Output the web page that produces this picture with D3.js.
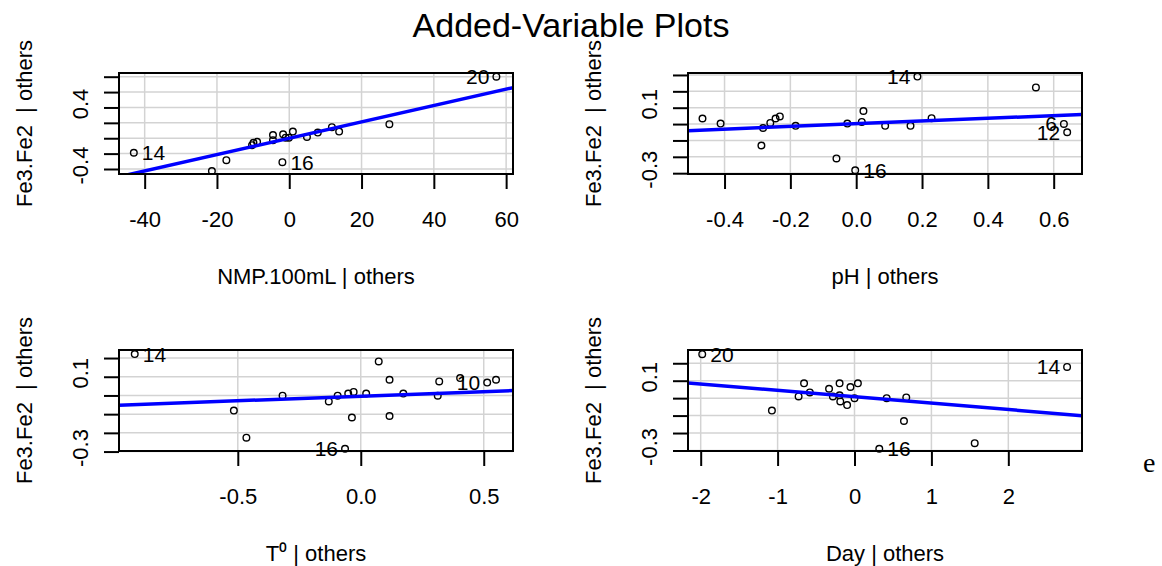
<!DOCTYPE html>
<html>
<head>
<meta charset="utf-8">
<script src="https://cdn.jsdelivr.net/npm/d3@7"></script>
<style>
  body { margin: 0; background: #fff; }
  svg text { font-family: "Liberation Sans", Arial, sans-serif; }
</style>
</head>
<body>
<div id="chart"></div>
<script>
// Added-variable plots

// NMP.100mL | others
const nmpX = [-43.0, -21.4, -17.4, -10.3, -9.9, -8.9, -4.5, -4.5, -1.9, -1.7, -1.0, -0.1, 1.0, 4.9, 7.9, 11.8, 13.8, 27.7, 57.3]
const nmpY = [-0.189, -0.426, -0.285, -0.09, -0.06, -0.047, 0.042, -0.025, -0.311, 0.051, 0.007, 0.007, 0.086, 0.016, 0.073, 0.144, 0.086, 0.183, 0.80]
const nmpId = ['14', '', '', '', '', '', '', '', '16', '', '', '', '', '', '', '', '', '', '20']

// pH | others
const phX = [-0.467, -0.412, -0.288, -0.283, -0.261, -0.245, -0.232, -0.184, -0.06, -0.027, -0.003, 0.017, 0.022, 0.088, 0.165, 0.186, 0.229, 0.546, 0.631, 0.641]
const phY = [0.034, 0.003, -0.131, -0.024, 0.007, 0.034, 0.047, -0.011, -0.21, 0.003, -0.282, 0.013, 0.08, -0.011, -0.011, 0.29, 0.036, 0.224, 0.001, -0.05]
const phId = ['', '', '', '', '', '', '', '', '', '', '16', '', '', '', '', '14', '', '', '6', '12']

// T0 | others
const tX = [-0.919, -0.516, -0.465, -0.318, -0.13, -0.094, -0.064, -0.051, -0.036, -0.029, 0.022, 0.073, 0.117, 0.117, 0.173, 0.313, 0.319, 0.404, 0.514, 0.55]
const tY = [0.221, -0.081, -0.226, -0.001, -0.032, -0.001, -0.285, 0.01, -0.118, 0.019, 0.01, 0.182, 0.084, -0.11, 0.01, -0.001, 0.075, 0.093, 0.069, 0.084]
const tId = ['14', '', '', '', '', '', '16', '', '', '', '', '', '', '', '', '', '', '', '10', '']

// Day | others
const dayX = [-1.98, -1.074, -0.727, -0.656, -0.581, -0.331, -0.281, -0.194, -0.194, -0.185, -0.096, -0.053, 0.0, 0.044, 0.322, 0.418, 0.643, 0.673, 1.563, 2.764]
const dayY = [0.252, -0.071, 0.01, 0.085, 0.033, 0.054, 0.01, 0.085, 0.016, -0.019, -0.04, 0.064, 0.0, 0.085, -0.29, 0.0, -0.131, 0.004, -0.258, 0.179]
const dayId = ['20', '', '', '', '', '', '', '', '', '', '', '', '', '', '16', '', '', '', '', '14']

// fitted lines (intercept, slope)
const fitIntercept = [0, 0.002, -0.004, 0.008]
const fitSlope = [0.01063, 0.0826, 0.0488, -0.0367]

// axes
const xTitles = ['NMP.100mL | others', 'pH | others', 'T\u2070 | others', 'Day | others']
const yTitle = 'Fe3.Fe2  | others'
const xDomains = [[-47.1, 61.9], [-0.511, 0.686], [-0.983, 0.619], [-2.165, 2.958]]
const yDomains = [[-0.465, 0.848], [-0.305, 0.312], [-0.297, 0.243], [-0.303, 0.276]]
const xTicks = [[-40, -20, 0, 20, 40, 60], [-0.4, -0.2, 0, 0.2, 0.4, 0.6], [-0.5, 0, 0.5], [-2, -1, 0, 1, 2]]
const xDigits = [0, 1, 1, 0]
const yTicks = [[-0.4, -0.2, 0, 0.2, 0.4, 0.6, 0.8], [-0.3, -0.2, -0.1, 0, 0.1, 0.2, 0.3], [-0.3, -0.2, -0.1, 0, 0.1, 0.2], [-0.3, -0.2, -0.1, 0, 0.1, 0.2]]
const yShown = [[-0.4, 0.4], [-0.3, 0.1], [-0.3, 0.1], [-0.3, 0.1]]

const W = 1162, H = 566

const svg = d3.select('#chart').append('svg')
  .attr('width', W)
  .attr('height', H)

// plot boxes, in pixels
const boxes = [
  { x0: 119, x1: 513, y0: 73, y1: 174, clipTop: 40 },
  { x0: 688, x1: 1082, y0: 73, y1: 174, clipTop: 40 },
  { x0: 119, x1: 513, y0: 350, y1: 451, clipTop: 316 },
  { x0: 688, x1: 1082, y0: 350, y1: 451, clipTop: 316 }
]

const panels = [
  { xs: nmpX, ys: nmpY, ids: nmpId },
  { xs: phX, ys: phY, ids: phId },
  { xs: tX, ys: tY, ids: tId },
  { xs: dayX, ys: dayY, ids: dayId }
]

const near = (a, b) => Math.abs(a - b) < 1e-9

panels.forEach((p, k) => {
  const box = boxes[k]
  const x = d3.scaleLinear().domain(xDomains[k]).range([box.x0, box.x1])
  const y = d3.scaleLinear().domain(yDomains[k]).range([box.y1, box.y0])
  const g = svg.append('g')

  g.append('clipPath').attr('id', `plotclip-${k}`)
    .append('rect')
    .attr('x', box.x0).attr('y', box.y0)
    .attr('width', box.x1 - box.x0).attr('height', box.y1 - box.y0)

  // figure region: the y title is cut at its top like in R
  g.append('clipPath').attr('id', `figclip-${k}`)
    .append('rect')
    .attr('x', 0).attr('y', box.clipTop)
    .attr('width', W).attr('height', H)

  // grid
  g.selectAll('.vgrid')
    .data(xTicks[k])
    .join('line')
    .attr('class', 'vgrid')
    .attr('x1', d => x(d)).attr('x2', d => x(d))
    .attr('y1', box.y0).attr('y2', box.y1)
    .attr('stroke', '#d3d3d3')
    .attr('stroke-width', 1.5)

  g.selectAll('.hgrid')
    .data(yTicks[k])
    .join('line')
    .attr('class', 'hgrid')
    .attr('x1', box.x0).attr('x2', box.x1)
    .attr('y1', d => y(d)).attr('y2', d => y(d))
    .attr('stroke', '#d3d3d3')
    .attr('stroke-width', 1.5)

  const pts = p.xs.map((v, i) => ({ x: v, y: p.ys[i], id: p.ids[i] }))

  g.selectAll('.pt')
    .data(pts)
    .join('circle')
    .attr('class', 'pt')
    .attr('cx', d => x(d.x))
    .attr('cy', d => y(d.y))
    .attr('r', 3.3)
    .attr('fill', 'none')
    .attr('stroke', 'black')
    .attr('stroke-width', 1.4)

  // regression line
  const xd = xDomains[k]
  g.append('line')
    .attr('clip-path', `url(#plotclip-${k})`)
    .attr('x1', x(xd[0])).attr('y1', y(fitIntercept[k] + fitSlope[k] * xd[0]))
    .attr('x2', x(xd[1])).attr('y2', y(fitIntercept[k] + fitSlope[k] * xd[1]))
    .attr('stroke', '#0000ff')
    .attr('stroke-width', 3.5)

  // point ids, pointing inwards
  const mid = (xd[0] + xd[1]) / 2
  g.selectAll('.idlab')
    .data(pts.filter(d => d.id))
    .join('text')
    .attr('class', 'idlab')
    .attr('x', d => d.x > mid ? x(d.x) - 7 : x(d.x) + 8)
    .attr('y', d => y(d.y))
    .attr('dy', '0.36em')
    .attr('text-anchor', d => d.x > mid ? 'end' : 'start')
    .style('font-size', '21px')
    .text(d => d.id)

  // box
  g.append('rect')
    .attr('x', box.x0).attr('y', box.y0)
    .attr('width', box.x1 - box.x0).attr('height', box.y1 - box.y0)
    .attr('fill', 'none')
    .attr('stroke', 'black')
    .attr('stroke-width', 2)

  // x axis
  const gx = g.append('g')
    .attr('transform', `translate(0,${box.y1})`)
    .call(d3.axisBottom(x)
      .tickValues(xTicks[k])
      .tickSize(15)
      .tickPadding(22)
      .tickFormat(d => d.toFixed(xDigits[k])))
  gx.select('.domain').remove()
  gx.selectAll('line').attr('stroke-width', 2)
  gx.selectAll('text').style('font-size', '22px')

  // y axis, labels turned like R's
  const gy = g.append('g')
    .attr('transform', `translate(${box.x0},0)`)
    .call(d3.axisLeft(y)
      .tickValues(yTicks[k])
      .tickSize(15)
      .tickFormat(d => yShown[k].some(s => near(s, d)) ? d.toFixed(1) : ''))
  gy.select('.domain').remove()
  gy.selectAll('line').attr('stroke-width', 2)
  gy.selectAll('text')
    .attr('transform', 'rotate(-90)')
    .attr('x', 4)
    .attr('y', -31)
    .attr('dy', 0)
    .style('text-anchor', 'middle')
    .style('font-size', '22px')

  // axis titles
  g.append('text')
    .attr('x', (box.x0 + box.x1) / 2)
    .attr('y', box.y1 + 110)
    .attr('text-anchor', 'middle')
    .style('font-size', '22px')
    .text(xTitles[k])

  g.append('g')
    .attr('clip-path', `url(#figclip-${k})`)
    .append('text')
    .attr('transform', `translate(${box.x0 - 87},${(box.y0 + box.y1) / 2}) rotate(-90)`)
    .attr('text-anchor', 'middle')
    .style('font-size', '22px')
    .style('white-space', 'pre')
    .text(yTitle)
})

svg.append('text')
  .attr('x', 571)
  .attr('y', 37)
  .attr('text-anchor', 'middle')
  .style('font-size', '34px')
  .text('Added-Variable Plots')

svg.append('text')
  .attr('x', 1143)
  .attr('y', 472)
  .style('font-family', '"Liberation Serif", "Times New Roman", serif')
  .style('font-size', '28px')
  .text('e')
</script>
</body>
</html>
